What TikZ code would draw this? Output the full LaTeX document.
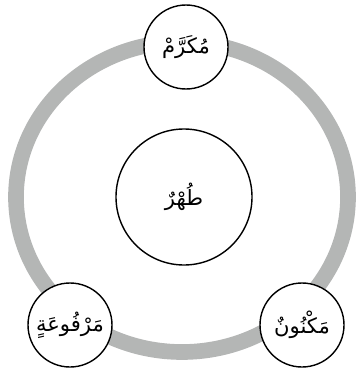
\documentclass[tikz,border=0pt]{standalone}
\usepackage{fontspec}
\usepackage{tikz}
\usetikzlibrary{positioning}
\TeXXeTstate=1
\newfontfamily\arabicfont[Script=Arabic]{DejaVu Sans}
\definecolor{ringgray}{RGB}{180,182,181}
\tikzset{
    word/.style={circle, draw=black, fill=white, line width=1.2pt, minimum size=2.52cm, inner sep=0pt, font=\arabicfont\fontsize{18}{20}\selectfont},
    core/.style={word, minimum size=4.08cm},
    ring/.style={line width=0.47cm, draw=ringgray},
}

\begin{document}
\begin{tikzpicture}[x=0.03cm, y=-0.03cm]
    \useasboundingbox (0,0) rectangle (356,368);
    % gray ring behind everything
    \draw[ring] (182,197) ellipse [x radius=4.98cm, y radius=4.65cm];

    % middle word
    \node[core] (tuhr) at (184,197) {\beginR طُهْرٌ\endR};

    % words on the ring
    \node[word] (mukarram) at (186,47) {\beginR مُكَرَّمْ\endR};
    \node[word] (marfua) at (70,325) {\beginR مَرْفُوعَةٍ\endR};
    \node[word] (maknun) at (302,325) {\beginR مَكْنُونٌ\endR};
\end{tikzpicture}
\end{document}
